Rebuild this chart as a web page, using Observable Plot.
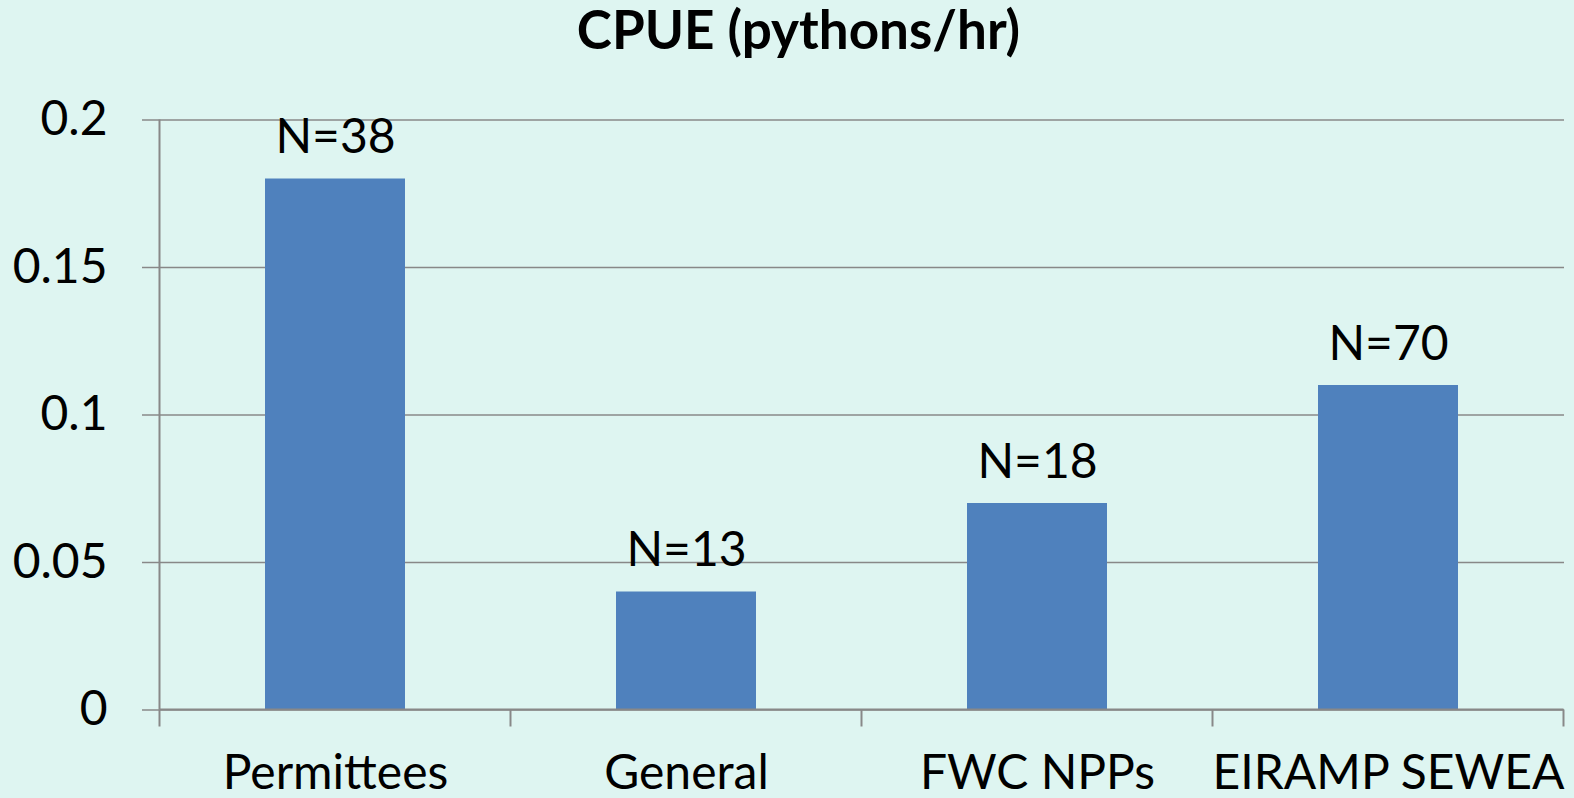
<!DOCTYPE html>
<html>
<head>
<meta charset="utf-8">
<script src="https://cdn.jsdelivr.net/npm/d3@7"></script>
<script src="https://cdn.jsdelivr.net/npm/@observablehq/plot@0.6"></script>
<style>
  html, body { margin: 0; padding: 0; background: #def5f1; overflow: hidden; }
  #wrap { position: relative; width: 1574px; height: 798px; }
  #title { position: absolute; left: 0; width: 1597px; top: -3px; text-align: center;
           font-family: Lato, sans-serif; font-weight: 700; font-size: 53px; color: #000; line-height: 1.2; }
  svg { display: block; }
</style>
</head>
<body>
<div id="wrap">
  <div id="chart"></div>
  <div id="title">CPUE (pythons/hr)</div>
</div>
<script>
const categories = ["Permittees", "General", "FWC NPPs", "EIRAMP SEWEA"];
const cpue = [0.18, 0.04, 0.07, 0.11];
const nLabels = ["N=38", "N=13", "N=18", "N=70"];
const yTicks = [0, 0.05, 0.1, 0.15, 0.2];

const data = categories.map((c, i) => ({ cat: c, v: cpue[i], n: nLabels[i] }));
const gray = "#888888";

// category boundary ticks and the y-axis line, positioned through the x and y scales
function boundaryTicks(index, scales, values, dims) {
  const g = d3.create("svg:g");
  const x = scales.x, y = scales.y;
  const step = x(categories[1]) - x(categories[0]);
  const bw = x.bandwidth ? x.bandwidth() : step * 0.4;
  const y0 = y(0), yTop = y(0.2);
  const bounds = categories.map(c => x(c) + bw / 2 - step / 2);
  bounds.push(x(categories[categories.length - 1]) + bw / 2 + step / 2);
  g.append("line").attr("x1", bounds[0]).attr("x2", bounds[0])
    .attr("y1", yTop).attr("y2", y0).attr("stroke", gray).attr("stroke-width", 2);
  g.append("line").attr("x1", bounds[0]).attr("x2", bounds[bounds.length - 1])
    .attr("y1", y0).attr("y2", y0).attr("stroke", gray).attr("stroke-width", 2);
  for (const b of bounds) {
    g.append("line").attr("x1", b).attr("x2", b).attr("y1", y0).attr("y2", y0 + 17)
      .attr("stroke", gray).attr("stroke-width", 2);
  }
  return g.node();
}

const chart = Plot.plot({
  width: 1574,
  height: 798,
  marginLeft: 159,
  marginRight: 10,
  marginTop: 119.5,
  marginBottom: 88.5,
  style: { background: "#def5f1", fontFamily: "Lato, sans-serif", fontSize: "48px", color: "#000" },
  x: { domain: categories, paddingInner: 0.6, paddingOuter: 0.3, label: null },
  y: { domain: [0, 0.2], label: null },
  marks: [
    Plot.gridY(yTicks, { stroke: gray, strokeOpacity: 1, strokeWidth: 1.5 }),
    Plot.axisY(yTicks, { tickSize: 17, tickPadding: 35, stroke: gray, strokeWidth: 1.5,
      tickFormat: d => String(d), fontSize: 48, label: null }),
    Plot.axisX({ tickSize: 0, tickPadding: 45, fontSize: 48, label: null }),
    Plot.barY(data, { x: "cat", y: "v", fill: "#4f81bd" }),
    Plot.text(data, { x: "cat", y: "v", text: "n", lineAnchor: "bottom", dy: -26, fontSize: 48, fill: "#000" }),
    boundaryTicks
  ]
});
document.getElementById("chart").appendChild(chart);
</script>
</body>
</html>
